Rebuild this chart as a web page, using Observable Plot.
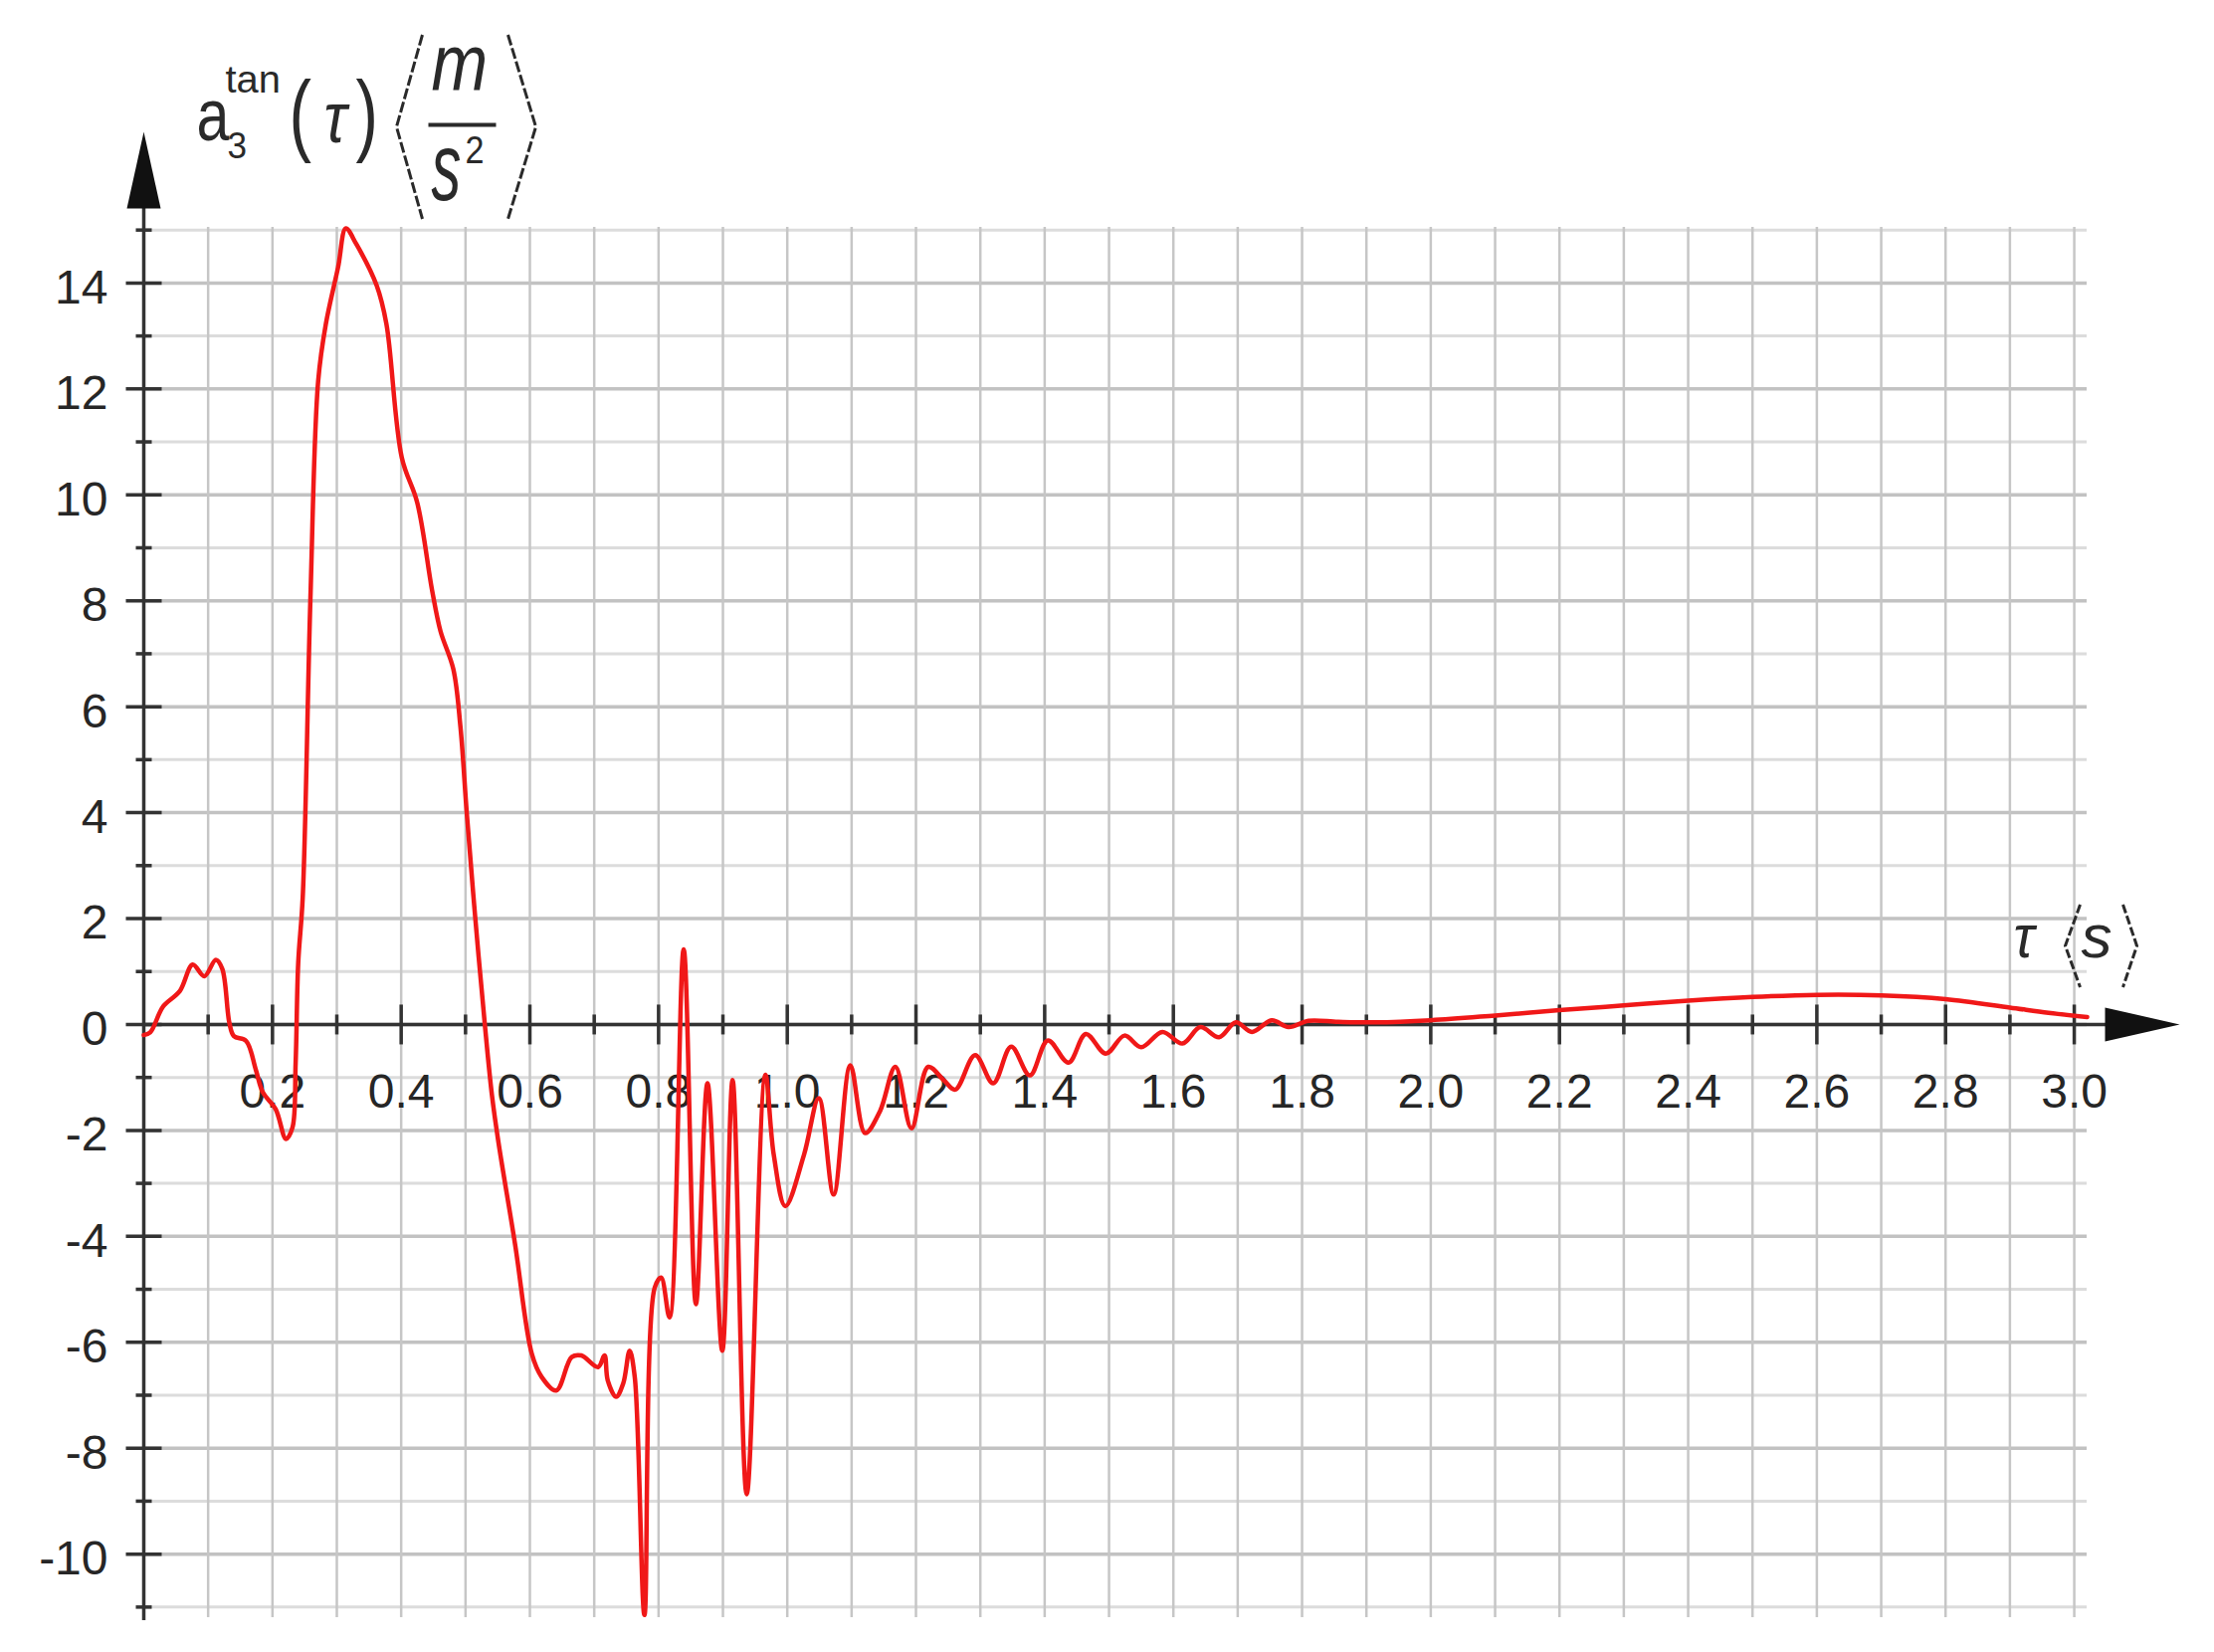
<!DOCTYPE html>
<html>
<head>
<meta charset="utf-8">
<script src="https://cdn.jsdelivr.net/npm/d3@7"></script>
<script src="https://cdn.jsdelivr.net/npm/@observablehq/plot@0.6"></script>
<style>
  html, body { margin: 0; padding: 0; background: #fff; }
  #chart svg { display: block; }
</style>
</head>
<body>
<div id="chart"></div>
<script>
// ---- data ----
const tau = [0.000, 0.010, 0.030, 0.056, 0.076, 0.094, 0.112, 0.122, 0.133, 0.140, 0.159, 0.174, 0.185, 0.205, 0.221, 0.231, 0.236, 0.240, 0.247, 0.259, 0.271, 0.283, 0.302, 0.314, 0.330, 0.362, 0.377, 0.401, 0.425, 0.448, 0.461, 0.481, 0.492, 0.502, 0.515, 0.530, 0.541, 0.551, 0.577, 0.603, 0.618, 0.641, 0.665, 0.680, 0.706, 0.716, 0.721, 0.734, 0.745, 0.755, 0.763, 0.778, 0.794, 0.804, 0.817, 0.839, 0.858, 0.876, 0.899, 0.915, 0.937, 0.966, 0.979, 0.997, 1.026, 1.049, 1.072, 1.098, 1.121, 1.144, 1.168, 1.193, 1.219, 1.243, 1.261, 1.292, 1.320, 1.348, 1.377, 1.405, 1.437, 1.464, 1.495, 1.524, 1.550, 1.583, 1.614, 1.642, 1.671, 1.697, 1.722, 1.753, 1.779, 1.810, 1.856, 1.913, 2.000, 2.100, 2.200, 2.300, 2.400, 2.500, 2.600, 2.700, 2.800, 2.900, 2.960, 3.020];
const accel = [-0.20, -0.15, 0.34, 0.63, 1.13, 0.91, 1.22, 1.05, 0.03, -0.22, -0.31, -0.85, -1.28, -1.60, -2.16, -1.95, -0.72, 1.16, 2.40, 8.06, 12.15, 13.23, 14.30, 15.03, 14.74, 13.95, 13.23, 10.70, 9.85, 8.20, 7.43, 6.71, 5.63, 3.98, 2.03, 0.00, -1.33, -2.21, -4.15, -6.22, -6.65, -6.91, -6.28, -6.25, -6.47, -6.25, -6.72, -7.03, -6.78, -6.16, -6.66, -11.15, -4.97, -4.78, -5.53, 1.42, -5.28, -1.11, -6.16, -1.05, -8.87, -0.95, -2.46, -3.43, -2.46, -1.39, -3.21, -0.77, -2.05, -1.64, -0.80, -1.96, -0.80, -1.05, -1.23, -0.58, -1.11, -0.42, -0.96, -0.30, -0.72, -0.18, -0.55, -0.21, -0.43, -0.14, -0.36, -0.05, -0.24, 0.04, -0.14, 0.08, -0.05, 0.07, 0.05, 0.04, 0.08, 0.17, 0.27, 0.36, 0.45, 0.52, 0.56, 0.55, 0.48, 0.32, 0.22, 0.14];

const xTickLabels = [0.2, 0.4, 0.6, 0.8, 1.0, 1.2, 1.4, 1.6, 1.8, 2.0, 2.2, 2.4, 2.6, 2.8, 3.0];
const xMinorTicks = [0.1, 0.3, 0.5, 0.7, 0.9, 1.1, 1.3, 1.5, 1.7, 1.9, 2.1, 2.3, 2.5, 2.7, 2.9];
const yTickLabels = [-10, -8, -6, -4, -2, 0, 2, 4, 6, 8, 10, 12, 14];
const yMinorTicks = [-11, -9, -7, -5, -3, -1, 1, 3, 5, 7, 9, 11, 13, 15];
const xGrid = [0.0, 0.1, 0.2, 0.3, 0.4, 0.5, 0.6, 0.7, 0.8, 0.9, 1.0, 1.1, 1.2, 1.3, 1.4, 1.5, 1.6, 1.7, 1.8, 1.9, 2.0, 2.1, 2.2, 2.3, 2.4, 2.5, 2.6, 2.7, 2.8, 2.9, 3.0];
const xDomain = [0, 3.02];
const yDomain = [-11.2, 15.05];

const yLabelMain = "a", yLabelSub = "3", yLabelSup = "tan", yLabelArg = "\u03C4", yLabelNum = "m", yLabelDen = "s", yLabelDenExp = "2";
const xLabelVar = "\u03C4", xLabelUnit = "s";

const table = tau.map((t, i) => ({t, a: accel[i]}));

// ---- decoration shapes (pixel-space symbols) ----
const seg = (x1, y1, x2, y2) => ({draw(c) { c.moveTo(x1, y1); c.lineTo(x2, y2); }});
const poly = (pts, close) => ({draw(c) { c.moveTo(pts[0][0], pts[0][1]); for (const p of pts.slice(1)) c.lineTo(p[0], p[1]); if (close) c.closePath(); }});
const vTickMajor = seg(0, -20, 0, 20);
const vTickMinor = seg(0, -10, 0, 10);
const hTickMajor = seg(-18, 0, 18, 0);
const hTickMinor = seg(-8, 0, 8, 0);
const arrowUp = poly([[0, -77], [17, 0], [-17, 0]], true);
const arrowRight = poly([[75, 0], [0, -17], [0, 17]], true);
const bracket = (h, w) => poly([[w, -h / 2], [0, 0], [w, h / 2]], false);
const fracBar = seg(0, 0, 68, 0);

const labelFont = "'Liberation Sans', Arial, sans-serif";
const one = [0];
// horizontal squeeze per title glyph (the reference's formula text is tall and narrow)
const squeeze = {};
let labelId = 0;
const txt = (s, sx, o) => {
  const id = "title-" + (labelId++);
  squeeze[id] = sx;
  return Plot.text([s], Object.assign({text: d => d, textAnchor: "start", lineAnchor: "bottom", fontStyle: "italic", fill: "#2a2a2a", fontFamily: labelFont, ariaLabel: () => id}, o));
};

const chart = Plot.plot({
  width: 2225,
  height: 1660,
  marginLeft: 144,
  marginRight: 128,
  marginTop: 228,
  marginBottom: 35,
  style: {background: "#fff", color: "#222", fontFamily: "'Liberation Sans', Arial, sans-serif", overflow: "visible"},
  x: {domain: xDomain, axis: null},
  y: {domain: yDomain, axis: null},
  marks: [
    // grid
    Plot.ruleY(yMinorTicks, {y: d => d, stroke: "#dcdcdc", strokeWidth: 3}),
    Plot.ruleY(yTickLabels, {y: d => d, stroke: "#c2c2c2", strokeWidth: 3.5}),
    Plot.ruleX(xGrid, {x: d => d, stroke: "#c6c6c6", strokeWidth: 2.5}),
    // axes
    Plot.ruleX([0], {stroke: "#333", strokeWidth: 3.5, insetTop: -20, insetBottom: -3}),
    Plot.ruleY([0], {stroke: "#333", strokeWidth: 3.5, insetRight: -20}),
    Plot.dot([0], {x: d => d, frameAnchor: "top", dy: -19, symbol: arrowUp, fill: "#111", stroke: "none"}),
    Plot.dot([0], {y: d => d, frameAnchor: "right", dx: 18, symbol: arrowRight, fill: "#111", stroke: "none"}),
    // ticks
    Plot.dot(xTickLabels, {x: d => d, y: 0, symbol: vTickMajor, stroke: "#333", strokeWidth: 3.5, fill: "none"}),
    Plot.dot(xMinorTicks, {x: d => d, y: 0, symbol: vTickMinor, stroke: "#333", strokeWidth: 3.5, fill: "none"}),
    Plot.dot(yTickLabels, {y: d => d, frameAnchor: "left", symbol: hTickMajor, stroke: "#333", strokeWidth: 3.5, fill: "none"}),
    Plot.dot(yMinorTicks, {y: d => d, frameAnchor: "left", symbol: hTickMinor, stroke: "#333", strokeWidth: 3.5, fill: "none"}),
    // tick labels
    Plot.text(yTickLabels, {y: d => d, text: d => String(d), frameAnchor: "left", textAnchor: "end", dx: -36, dy: 5, fontSize: 48, fill: "#262626"}),
    Plot.text(xTickLabels, {x: d => d, y: 0, text: d => d.toFixed(1), dy: 68, fontSize: 48, fill: "#262626"}),
    // curve
    Plot.line(table, {x: "t", y: "a", stroke: "#f01818", strokeWidth: 4.5, curve: "catmull-rom"}),
    // y axis title: a_3^tan(τ) <m / s^2>   (frame top-left is the anchor)
    txt(yLabelMain, 0.8, {frameAnchor: "top-left", dx: 53, dy: -88, fontSize: 74, fontStyle: "normal"}),
    txt(yLabelSub, 0.95, {frameAnchor: "top-left", dx: 84, dy: -70, fontSize: 37, fontStyle: "normal"}),
    txt(yLabelSup, 1.05, {frameAnchor: "top-left", dx: 82, dy: -136, fontSize: 38, fontStyle: "normal"}),
    txt("(", 0.75, {frameAnchor: "top-left", dx: 146, dy: -84, fontSize: 90, fontStyle: "normal"}),
    txt(yLabelArg, 0.85, {frameAnchor: "top-left", dx: 181, dy: -86, fontSize: 72}),
    txt(")", 0.75, {frameAnchor: "top-left", dx: 213, dy: -84, fontSize: 90, fontStyle: "normal"}),
    txt(yLabelNum, 0.85, {frameAnchor: "top-left", dx: 289, dy: -138, fontSize: 80}),
    txt(yLabelDen, 0.62, {frameAnchor: "top-left", dx: 289, dy: -28, fontSize: 96}),
    txt(yLabelDenExp, 0.9, {frameAnchor: "top-left", dx: 323, dy: -65, fontSize: 38, fontStyle: "normal"}),
    Plot.dot(one, {frameAnchor: "top-left", dx: 286, dy: -103, symbol: fracBar, stroke: "#2a2a2a", strokeWidth: 4, fill: "none"}),
    Plot.dot(one, {frameAnchor: "top-left", dx: 254, dy: -101, symbol: bracket(185, 26), stroke: "#2a2a2a", strokeWidth: 3, fill: "none", strokeDasharray: "11,3"}),
    Plot.dot(one, {frameAnchor: "top-left", dx: 394, dy: -101, symbol: bracket(185, -28), stroke: "#2a2a2a", strokeWidth: 3, fill: "none", strokeDasharray: "11,3"}),
    // x axis title: τ <s>   (right end of the x axis is the anchor)
    txt(xLabelVar, 0.9, {y: () => 0, frameAnchor: "right", dx: -74, dy: -67, fontSize: 62}),
    txt(xLabelUnit, 1.0, {y: () => 0, frameAnchor: "right", dx: -6, dy: -67, fontSize: 62}),
    Plot.dot(one, {y: () => 0, frameAnchor: "right", dx: -22, dy: -79, symbol: bracket(83, 15), stroke: "#2a2a2a", strokeWidth: 3, fill: "none", strokeDasharray: "9,3"}),
    Plot.dot(one, {y: () => 0, frameAnchor: "right", dx: 50, dy: -79, symbol: bracket(83, -14), stroke: "#2a2a2a", strokeWidth: 3, fill: "none", strokeDasharray: "9,3"})
  ]
});
document.getElementById("chart").appendChild(chart);

// narrow the formula glyphs horizontally around their own left edge
for (const [id, sx] of Object.entries(squeeze)) {
  if (sx === 1) continue;
  d3.select(chart).selectAll(`text[aria-label="${id}"], g[aria-label="${id}"] text`).each(function () {
    const bb = this.getBBox();
    const x0 = bb.x;
    const t = this.getAttribute("transform") || "";
    this.setAttribute("transform", `${t} translate(${x0},0) scale(${sx},1) translate(${-x0},0)`.trim());
  });
}
</script>
</body>
</html>
